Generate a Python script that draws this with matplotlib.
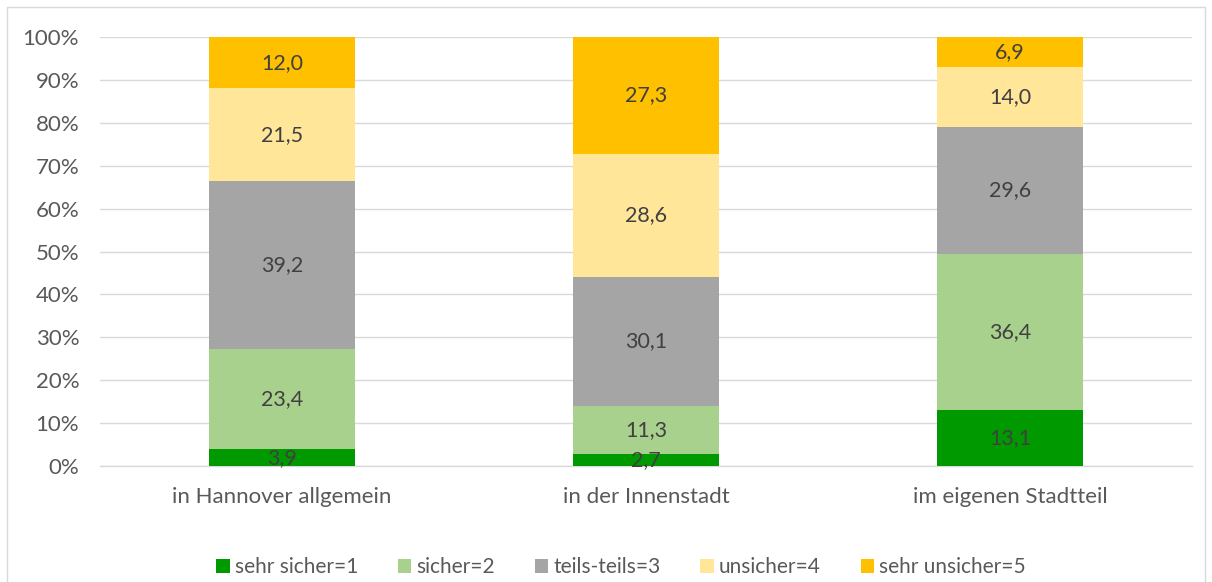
import matplotlib
matplotlib.use("Agg")
import matplotlib.pyplot as plt
from matplotlib.patches import Rectangle
import numpy as np

categories = ["in Hannover allgemein", "in der Innenstadt", "im eigenen Stadtteil"]
series_names = ["sehr sicher=1", "sicher=2", "teils-teils=3", "unsicher=4", "sehr unsicher=5"]
sehr_sicher = [3.9, 2.7, 13.1]
sicher = [23.4, 11.3, 36.4]
teils = [39.2, 30.1, 29.6]
unsicher = [21.5, 28.6, 14.0]
sehr_unsicher = [12.0, 27.3, 6.9]
colors = ["#009A00", "#A9D18E", "#A5A5A5", "#FFE699", "#FFC000"]

series = [sehr_sicher, sicher, teils, unsicher, sehr_unsicher]
txt = "#595959"
plt.rcParams['font.family'] = ['Lato', 'DejaVu Sans']
fs = 16

fig = plt.figure(figsize=(12.12, 5.82), dpi=100)
fig.patches.append(Rectangle((7/1212, -0.01), 1198/1212, 1 - 7/582 + 0.01, transform=fig.transFigure,
                             fill=False, edgecolor="#D9D9D9", linewidth=1))
ax = fig.add_axes([100/1212, 1 - 466/582, 1092/1212, (466 - 37)/582])

x = np.arange(len(categories))
bottom = np.zeros(len(categories))
handles = []
for name, vals, c in zip(series_names, series, colors):
    b = ax.bar(x, vals, 0.4, bottom=bottom, color=c, label=name, zorder=3)
    handles.append(b)
    for xi, v, bt in zip(x, vals, bottom):
        ax.text(xi, bt + v / 2, f"{v:.1f}".replace(".", ","), ha="center", va="center",
                fontsize=15.5, color="#404040", zorder=4)
    bottom += np.array(vals)

ax.set_xlim(-0.5, 2.5)
ax.set_ylim(0, 100)
ax.set_yticks(np.arange(0, 101, 10))
ax.set_yticklabels([f"{t}%" for t in range(0, 101, 10)])
ax.set_xticks(x)
ax.set_xticklabels(categories)
ax.tick_params(axis="both", length=0, labelsize=fs, colors=txt)
ax.tick_params(axis="x", pad=15)
ax.tick_params(axis="y", pad=15)
ax.grid(axis="y", color="#D9D9D9", linewidth=1, zorder=0)
for s in ["top", "right", "left"]:
    ax.spines[s].set_visible(False)
ax.spines["bottom"].set_color("#D9D9D9")
ax.spines["bottom"].set_linewidth(1)

fig.legend(handles=handles, labels=series_names, loc="center", bbox_to_anchor=(621/1212, 1 - 567/582),
           ncol=5, frameon=False, fontsize=15, handlelength=0.65, handleheight=0.65, handletextpad=0.25,
           columnspacing=1.9, labelcolor=txt)

fig.savefig("out.png", dpi=100)
